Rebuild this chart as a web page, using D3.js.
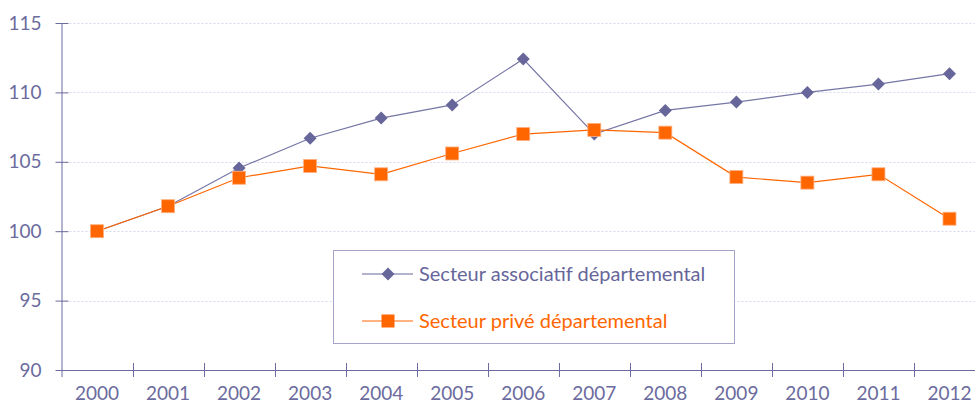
<!DOCTYPE html>
<html>
<head>
<meta charset="utf-8">
<script src="https://cdn.jsdelivr.net/npm/d3@7"></script>
<style>
  body { margin: 0; background: #fff; }
  text { font-family: Lato, "Open Sans", sans-serif; }
</style>
</head>
<body>
<div id="chart"></div>
<script>
var w = 975
var h = 405

var years = ["2000", "2001", "2002", "2003", "2004", "2005", "2006", "2007", "2008", "2009", "2010", "2011", "2012"];
var associatif = [100, 101.8, 104.55, 106.7, 108.15, 109.1, 112.4, 107.0, 108.7, 109.3, 110.0, 110.6, 111.35];
var prive = [100, 101.8, 103.85, 104.7, 104.1, 105.6, 107.0, 107.3, 107.1, 103.9, 103.5, 104.1, 100.9];
var yTicks = [90, 95, 100, 105, 110, 115];
var seriesNames = ["Secteur associatif départemental", "Secteur privé départemental"];

var purple = "#66669a";
var orange = "#ff6600";
var axisCol = "#6b6b9e";

var x0 = 61.5, x1 = 985, yTop = 23, yBot = 370;

var x = d3.scaleBand().domain(years).range([x0, x1]);
var y = d3.scaleLinear().domain([90, 115]).range([yBot, yTop]);

var svg = d3.select("#chart").append("svg")
    .attr("width", w)
    .attr("height", h);

// grid lines
svg.selectAll("line.grid").data(yTicks.filter(function(d) { return d > 90; })).enter()
  .append("line")
    .attr("class", "grid")
    .attr("x1", x0).attr("x2", w)
    .attr("y1", function(d) { return Math.round(y(d)) + 0.5; })
    .attr("y2", function(d) { return Math.round(y(d)) + 0.5; })
    .attr("stroke", "#d8d8ec")
    .attr("stroke-dasharray", "2,2");

// y axis
var yAxis = svg.append("g")
    .attr("transform", "translate(" + x0 + ",0)")
    .call(d3.axisLeft(y).tickValues(yTicks).tickSize(7).tickPadding(14));
yAxis.select(".domain").attr("stroke", axisCol).attr("d", "M0.5," + yTop + "V" + (yBot + 7));
yAxis.selectAll(".tick line").attr("stroke", axisCol).attr("x2", 7).attr("x1", -6);
yAxis.selectAll(".tick text").attr("fill", axisCol).style("font-size", "19px")
    .attr("x", -20);

// x axis
var xAxis = svg.append("g")
    .attr("transform", "translate(0," + yBot + ")")
    .call(d3.axisBottom(x).tickSize(0).tickPadding(17));
xAxis.select(".domain").attr("stroke", axisCol).attr("d", "M" + x0 + ",0.5H" + w);
xAxis.selectAll(".tick text").attr("fill", axisCol).style("font-size", "19px");

svg.selectAll("line.xtick").data(years.slice(1)).enter()
  .append("line")
    .attr("class", "xtick")
    .attr("x1", function(d) { return Math.round(x(d)) + 0.5; })
    .attr("x2", function(d) { return Math.round(x(d)) + 0.5; })
    .attr("y1", yBot - 7).attr("y2", yBot + 7)
    .attr("stroke", axisCol);

var line = d3.line()
    .x(function(d, i) { return x(years[i]) + x.bandwidth() / 2; })
    .y(function(d) { return y(d); });

// associatif series
svg.append("path")
    .attr("d", line(associatif))
    .attr("fill", "none")
    .attr("stroke", "#7676a6")
    .attr("stroke-width", 1.2);

// prive series
svg.append("path")
    .attr("d", line(prive))
    .attr("fill", "none")
    .attr("stroke", orange)
    .attr("stroke-width", 1.2);

var diamond = "M0,-6.5L6.5,0L0,6.5L-6.5,0Z";

svg.selectAll("path.dia").data(associatif).enter()
  .append("path")
    .attr("class", "dia")
    .attr("d", diamond)
    .attr("fill", purple)
    .attr("transform", function(d, i) { return "translate(" + (x(years[i]) + x.bandwidth() / 2) + "," + y(d) + ")"; });

svg.selectAll("rect.sq").data(prive).enter()
  .append("rect")
    .attr("class", "sq")
    .attr("x", function(d, i) { return x(years[i]) + x.bandwidth() / 2 - 6.5; })
    .attr("y", function(d) { return y(d) - 6.5; })
    .attr("width", 13).attr("height", 13)
    .attr("fill", orange)
    .attr("stroke", "#ffb080")
    .attr("stroke-width", 0.8);

// legend
var lg = svg.append("g");
lg.append("rect")
    .attr("x", 333.5).attr("y", 250.5)
    .attr("width", 401).attr("height", 93)
    .attr("fill", "#fff")
    .attr("stroke", "#a3a3cc");

var legendColors = [purple, orange];
var legendY = [274, 321];

lg.selectAll("line.lg").data(seriesNames).enter()
  .append("line")
    .attr("x1", 362).attr("x2", 413)
    .attr("y1", function(d, i) { return legendY[i]; })
    .attr("y2", function(d, i) { return legendY[i]; })
    .attr("stroke", function(d, i) { return legendColors[i]; });

lg.append("path")
    .attr("d", diamond)
    .attr("fill", purple)
    .attr("transform", "translate(388," + legendY[0] + ")");

lg.append("rect")
    .attr("x", 388 - 6.5).attr("y", legendY[1] - 6.5)
    .attr("width", 13).attr("height", 13)
    .attr("fill", orange);

lg.selectAll("text.lg").data(seriesNames).enter()
  .append("text")
    .attr("x", 419)
    .attr("y", function(d, i) { return legendY[i]; })
    .attr("dy", "0.35em")
    .attr("fill", function(d, i) { return legendColors[i]; })
    .style("font-size", "20px")
    .text(function(d) { return d; });
</script>
</body>
</html>
